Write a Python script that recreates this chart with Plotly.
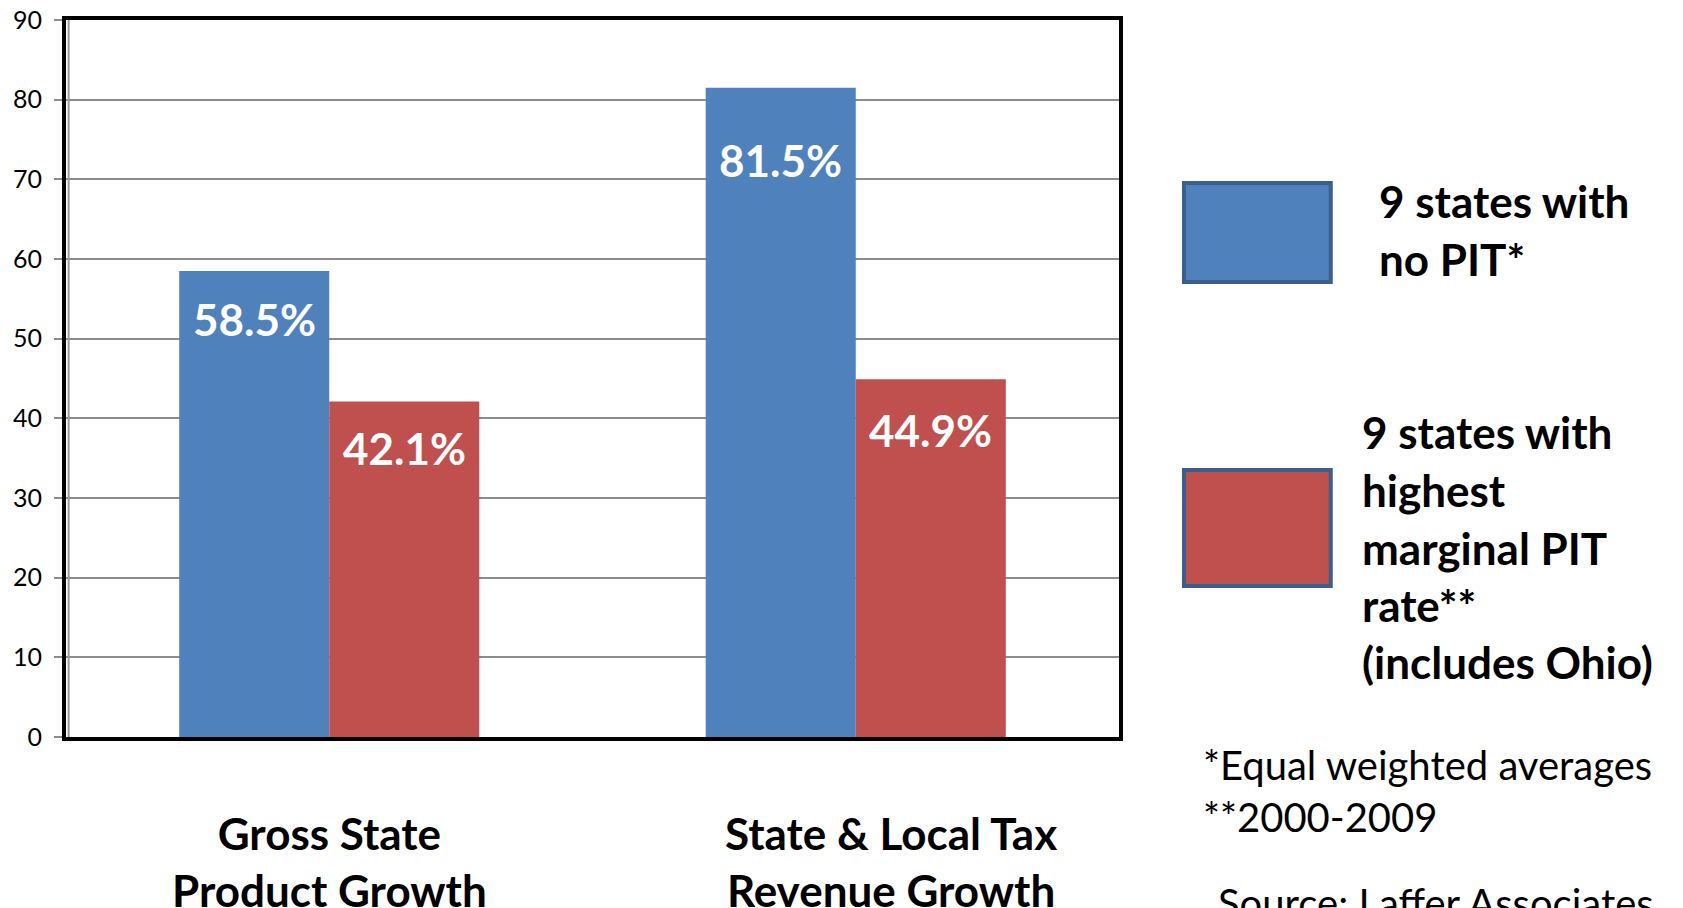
import plotly.graph_objects as go

# data
categories = ["Gross State Product Growth", "State & Local Tax Revenue Growth"]
category_labels = ["Gross State<br>Product Growth", "State & Local Tax<br>Revenue Growth"]
series_names = ["9 states with no PIT*", "9 states with highest marginal PIT rate** (includes Ohio)"]
no_pit = [58.5, 81.5]
high_pit = [42.1, 44.9]
y_ticks = [0, 10, 20, 30, 40, 50, 60, 70, 80, 90]

legend_blue_lines = ["9 states with", "no PIT*"]
legend_red_lines = ["9 states with", "highest", "marginal PIT", "rate**", "(includes Ohio)"]
note_lines = ["*Equal weighted averages", "**2000-2009"]
source_text = "Source: Laffer Associates"

BLUE = "#4f81bd"
RED = "#c0504d"
BORDER = "#3b5f8c"
FONT = "Lato"
BARGAP = 0.43

# pixel drop of each value label below its bar top (blue, red) per category
label_drop = {0: (-20, -18), 1: (-44, -23)}
# the second category caption sits a little right of its group in the original
caption_shift = [0, 35]

fig = go.Figure()
for name, vals, col in [(series_names[0], no_pit, BLUE), (series_names[1], high_pit, RED)]:
    fig.add_trace(go.Bar(
        x=categories, y=vals, name=name,
        marker=dict(color=col, line=dict(width=0)),
        showlegend=False,
    ))

# value labels inside the top of each bar
half = (1 - BARGAP) / 4
for i, cat in enumerate(categories):
    for j, (off, vals) in enumerate([(-half, no_pit), (half, high_pit)]):
        fig.add_annotation(
            x=i + off, y=vals[i], xref="x", yref="y",
            text=f"<b>{vals[i]:.1f}%</b>", showarrow=False,
            yanchor="top", yshift=label_drop[i][j],
            font=dict(family=FONT, size=44, color="white"),
        )

# category captions under the axis
for i, lab in enumerate(category_labels):
    fig.add_annotation(
        x=i, y=-0.1736, xref="x", yref="paper",
        text=f"<b>{lab}</b>", showarrow=False,
        xanchor="center", yanchor="middle", xshift=caption_shift[i],
        font=dict(family=FONT, size=44, color="black"),
    )

# custom legend boxes
fig.add_shape(type="rect", xref="paper", yref="paper",
              x0=1.0617, x1=1.2011, y0=0.6346, y1=0.7727,
              fillcolor=BLUE, line=dict(color=BORDER, width=4))
fig.add_shape(type="rect", xref="paper", yref="paper",
              x0=1.0617, x1=1.2011, y0=0.2106, y1=0.3724,
              fillcolor=RED, line=dict(color=BORDER, width=4))

# thin grey line along the inside of the left axis
fig.add_shape(type="line", xref="paper", yref="paper",
              x0=0.0025, x1=0.0025, y0=0, y1=1,
              line=dict(color="#9a9a9a", width=2))

for txt, yp in zip(legend_blue_lines, [0.7476, 0.6667]):
    fig.add_annotation(x=1.2453, y=yp, xref="paper", yref="paper", text=f"<b>{txt}</b>",
                       showarrow=False, xanchor="left", yanchor="middle",
                       font=dict(family=FONT, size=44, color="black"))
for txt, yp in zip(legend_red_lines, [0.4254, 0.3445, 0.2636, 0.1841, 0.1046]):
    fig.add_annotation(x=1.2291, y=yp, xref="paper", yref="paper", text=f"<b>{txt}</b>",
                       showarrow=False, xanchor="left", yanchor="middle",
                       font=dict(family=FONT, size=44, color="black"))
for txt, yp in zip(note_lines, [-0.0391, -0.1116]):
    fig.add_annotation(x=1.0783, y=yp, xref="paper", yref="paper", text=txt,
                       showarrow=False, xanchor="left", yanchor="middle",
                       font=dict(family=FONT, size=40, color="black"))
fig.add_annotation(x=1.0925, y=-0.2315, xref="paper", yref="paper", text=source_text,
                   showarrow=False, xanchor="left", yanchor="middle",
                   font=dict(family=FONT, size=40, color="black"))

# page body has an 8px margin, so the plot box is nudged up/left to compensate
fig.update_layout(
    width=1683, height=908,
    margin=dict(l=58, r=572, t=12, b=179),
    barmode="group", bargap=BARGAP, bargroupgap=0,
    plot_bgcolor="white", paper_bgcolor="white",
    font=dict(family=FONT, color="black"),
)
fig.update_xaxes(
    automargin=False,
    showline=True, mirror=True, linecolor="black", linewidth=4,
    showgrid=False, ticks="", showticklabels=False,
)
fig.update_yaxes(
    automargin=False,
    range=[0, 90], tickvals=y_ticks,
    showline=True, mirror=True, linecolor="black", linewidth=4,
    showgrid=True, gridcolor="#8c8c8c", gridwidth=1.5,
    ticks="outside", ticklen=8, tickcolor="#8c8c8c", tickwidth=2,
    ticklabelstandoff=7, ticklabeloverflow="allow",
    tickfont=dict(family=FONT, size=25, color="black"),
    zeroline=False,
)

fig.write_html("out.html")
